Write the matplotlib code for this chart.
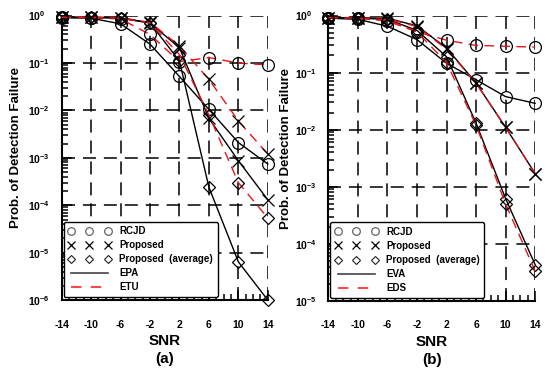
import math
import matplotlib
matplotlib.use("Agg")
import matplotlib.pyplot as plt
from matplotlib.lines import Line2D
from matplotlib.ticker import FixedLocator, LogLocator, FuncFormatter, NullFormatter

plt.rcParams['font.family'] = ['Liberation Sans', 'DejaVu Sans']
plt.rcParams['font.weight'] = 'bold'
plt.rcParams['axes.unicode_minus'] = False
plt.rcParams['mathtext.fontset'] = 'custom'
plt.rcParams['mathtext.rm'] = 'Liberation Sans:bold'
plt.rcParams['mathtext.bf'] = 'Liberation Sans:bold'
plt.rcParams['mathtext.it'] = 'Liberation Sans:bold'

snr = [-14, -10, -6, -2, 2, 6, 10, 14]
xticks = [-14, -10, -6, -2, 2, 6, 10, 14]

# Panel (a): EPA (solid black), ETU (dashed red)
a_rcjd_epa = [0.90, 0.88, 0.67, 0.25, 0.052, 0.0105, 0.0021, 0.00074]
a_rcjd_etu = [0.92, 0.90, 0.85, 0.40, 0.107, 0.13, 0.10, 0.091]
a_prop_epa = [0.92, 0.92, 0.90, 0.70, 0.21, 0.0068, 0.00087, 0.00013]
a_prop_etu = [0.92, 0.92, 0.90, 0.72, 0.23, 0.045, 0.0060, 0.0012]
a_avg_epa = [0.92, 0.92, 0.88, 0.70, 0.11, 0.00024, 6.4e-6, 1.0e-6]
a_avg_etu = [0.92, 0.92, 0.88, 0.70, 0.15, 0.0080, 0.00030, 5.4e-5]

# Panel (b): EVA (solid black), EDS (dashed red)
b_rcjd_eva = [0.90, 0.86, 0.65, 0.38, 0.146, 0.075, 0.038, 0.029]
b_rcjd_eds = [0.92, 0.90, 0.80, 0.52, 0.37, 0.30, 0.29, 0.28]
b_prop_eva = [0.92, 0.92, 0.90, 0.66, 0.27, 0.066, 0.011, 0.0017]
b_prop_eds = [0.92, 0.92, 0.88, 0.64, 0.26, 0.065, 0.011, 0.0017]
b_avg_eva = [0.92, 0.90, 0.86, 0.55, 0.19, 0.013, 0.00062, 4.3e-5]
b_avg_eds = [0.92, 0.90, 0.84, 0.52, 0.15, 0.012, 0.00050, 3.3e-5]

legend_labels = ['RCJD', 'Proposed', 'Proposed  (average)']

RED = '#e8141c'
fig = plt.figure(figsize=(5.5, 3.71), dpi=100)
axA = fig.add_axes([0.112, 0.191, 0.375, 0.767])
axB = fig.add_axes([0.597, 0.189, 0.376, 0.769])


def draw(ax, sets, ymin, names, panel, ylab_x):
    for (vals, marker, ls, col) in sets:
        ms = 8.5 if marker == 'o' else (9 if marker == 'x' else 6.5)
        kw = dict(dashes=(7, 4.5)) if ls == '--' else {}
        ax.plot(snr, vals, color=col, linestyle=ls, linewidth=1.0,
                marker=marker, markersize=ms, markerfacecolor='none',
                markeredgecolor='black', markeredgewidth=0.9,
                clip_on=False, zorder=3, **kw)
    ax.set_yscale('log')
    ax.set_xlim(-14, 14)
    ax.set_ylim(ymin, 1)
    ax.xaxis.set_major_locator(FixedLocator(xticks))
    ax.xaxis.set_minor_locator(FixedLocator(list(range(-14, 15))))
    ax.yaxis.set_major_locator(LogLocator(base=10, numticks=20))
    ax.yaxis.set_minor_locator(LogLocator(base=10, subs=[2, 3, 4, 5, 6, 7, 8, 9], numticks=20))
    ax.yaxis.set_minor_formatter(NullFormatter())
    ax.yaxis.set_major_formatter(FuncFormatter(
        lambda v, p: r'$\mathbf{10^{%d}}$' % round(math.log10(v))))
    ax.tick_params(which='both', direction='in', labelsize=7.5, width=1.1)
    ax.tick_params(which='major', length=7)
    ax.tick_params(which='minor', length=4)
    ax.tick_params(axis='x', which='major', pad=14)
    ax.tick_params(axis='y', which='major', pad=24)
    for lab in ax.get_yticklabels():
        lab.set_horizontalalignment('left')
    for s in ['top', 'right']:
        ax.spines[s].set_visible(False)
    for s in ['left', 'bottom']:
        ax.spines[s].set_linewidth(1.5)
    ax.grid(True, which='major', color='black', linestyle=(0, (8.5, 5.2)), linewidth=1.1)
    ax.set_axisbelow(True)
    for lab in ax.get_xticklabels() + ax.get_yticklabels():
        lab.set_fontweight('bold')
    ax.text(0.5, -0.158, 'SNR', transform=ax.transAxes, ha='center', va='baseline',
            fontsize=11, fontweight='bold')
    ax.text(0.5, -0.222, '(%s)' % panel, transform=ax.transAxes, ha='center', va='baseline',
            fontsize=11, fontweight='bold')
    ax.set_ylabel('Prob. of Detection Failure', fontsize=9.5, fontweight='bold')
    ax.yaxis.set_label_coords(ylab_x, 0.535)
    handles = [
        Line2D([], [], linestyle='none', marker='o', markersize=5.5, markerfacecolor='none',
               markeredgecolor='#666666', markeredgewidth=0.9),
        Line2D([], [], linestyle='none', marker='x', markersize=6, markeredgecolor='black',
               markeredgewidth=0.9),
        Line2D([], [], linestyle='none', marker='D', markersize=4, markerfacecolor='none',
               markeredgecolor='#222222', markeredgewidth=0.8),
        Line2D([], [], color='#444444', linewidth=1.2),
        Line2D([], [], color='#ff4848', linewidth=1.5, dashes=(5, 4.5)),
    ]
    leg = ax.legend(handles, legend_labels + list(names),
                    loc='lower left', bbox_to_anchor=(0.0, 0.005), numpoints=3,
                    handlelength=4.4, fontsize=7, frameon=True, fancybox=True,
                    edgecolor='black', framealpha=1, labelspacing=0.42, borderpad=0.45,
                    handletextpad=0.9, borderaxespad=0.2)
    leg.get_frame().set_linewidth(1.0)
    for t in leg.get_texts():
        t.set_fontweight('bold')


setsA = [
    (a_rcjd_epa, 'o', '-', 'black'), (a_rcjd_etu, 'o', '--', RED),
    (a_prop_epa, 'x', '-', 'black'), (a_prop_etu, 'x', '--', RED),
    (a_avg_epa, 'D', '-', 'black'), (a_avg_etu, 'D', '--', RED),
]
setsB = [
    (b_rcjd_eva, 'o', '-', 'black'), (b_rcjd_eds, 'o', '--', RED),
    (b_prop_eva, 'x', '-', 'black'), (b_prop_eds, 'x', '--', RED),
    (b_avg_eva, 'D', '-', 'black'), (b_avg_eds, 'D', '--', RED),
]
draw(axA, setsA, 1e-6, ('EPA', 'ETU'), 'a', -0.19)
draw(axB, setsB, 1e-5, ('EVA', 'EDS'), 'b', -0.175)

fig.savefig('out.png', dpi=100)
